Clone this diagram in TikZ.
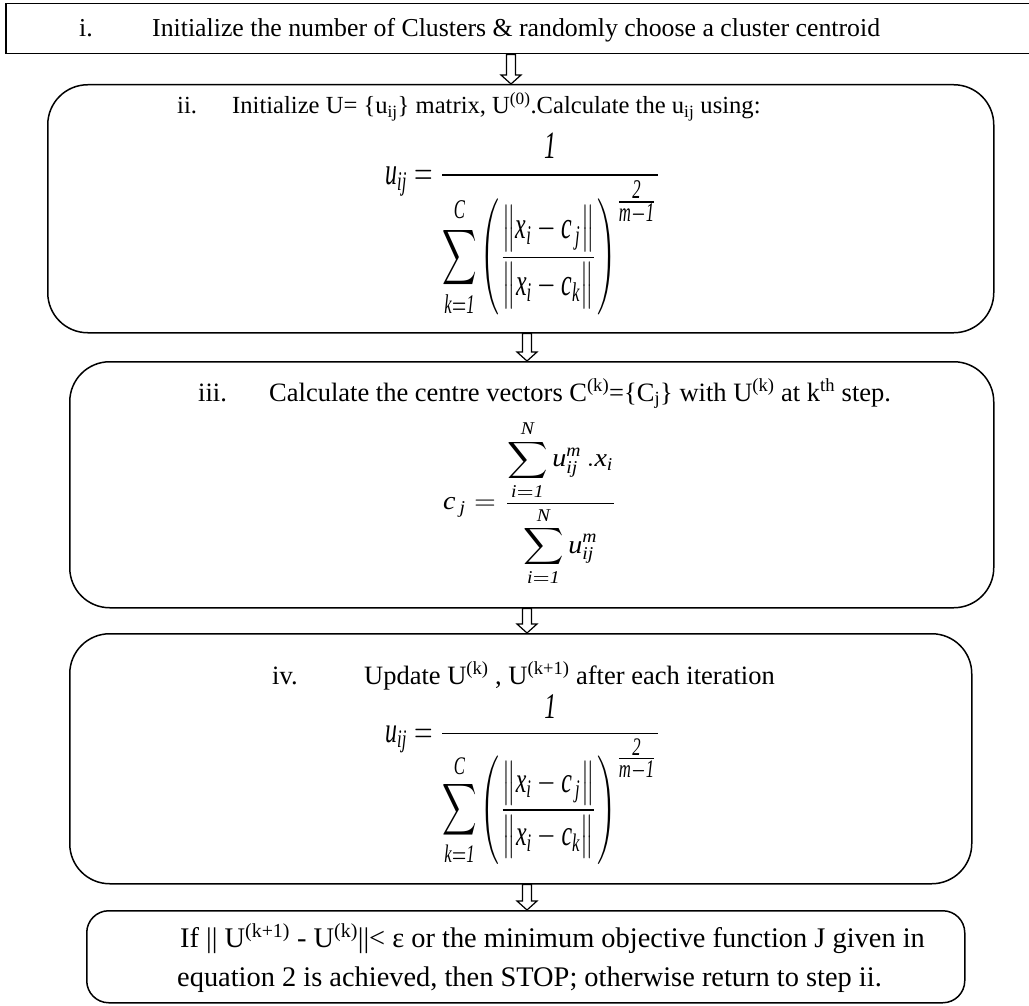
\documentclass[tikz,border=0pt]{standalone}
\usepackage{fontspec}
\setmainfont{Liberation Serif}
\usepackage{amsmath}
\usepackage{graphicx}
\usetikzlibrary{calc}

\newcommand{\mi}[1]{\text{\itshape #1}}
\newcommand{\mathU}{$\displaystyle \mi{u}_{\mi{ij}} = \frac{\mi{1}}{\displaystyle\sum_{\mi{k}=\mi{1}}^{\mi{C}} \left(\frac{\bigl\|\mi{x}_{\mi{i}} - \mi{c}_{\,\mi{j}}\bigr\|}{\bigl\|\mi{x}_{\mi{i}} - \mi{c}_{\mi{k}}\bigr\|}\right)^{\frac{\scriptstyle\mi{2}}{\scriptstyle\mi{m}-\mi{1}}}}$}
\newcommand{\mathC}{$\displaystyle \mi{c}_{\,\mi{j}} = \frac{\displaystyle\sum_{\mi{i}=\mi{1}}^{\mi{N}} \mi{u}_{\mi{ij}}^{\mi{m}}\,.\mi{x}_{\mi{i}}}{\displaystyle\sum_{\mi{i}=\mi{1}}^{\mi{N}} \mi{u}_{\mi{ij}}^{\mi{m}}}$}

\tikzset{
  boxline/.style={draw=black, line width=1.5pt, inner sep=0pt, anchor=north west},
  plainbox/.style={boxline},
  roundbox/.style={boxline, rounded corners=40pt},
  smallround/.style={boxline, rounded corners=22pt},
  txt/.style={inner sep=0pt, anchor=base west, font=\fontsize{26.5}{32}\selectfont},
  txtii/.style={inner sep=0pt, anchor=base west, font=\fontsize{24.6}{30}\selectfont},
  txti/.style={inner sep=0pt, anchor=base west, font=\fontsize{25.8}{31}\selectfont},
  txtv/.style={inner sep=0pt, anchor=base west, font=\fontsize{28.4}{34}\selectfont},
  formula/.style={inner sep=0pt, anchor=north west},
  harrow/.style={draw=black, fill=white, line width=1.2pt, line join=miter}
}

\begin{document}
\begin{tikzpicture}[x=1pt, y=-1pt]
\useasboundingbox (0,0) rectangle (1029,1006);
\fill[white] (0,0) rectangle (1029,1006);

% boxes
\node[plainbox, minimum width=1035pt, minimum height=50pt] (boxi) at (5,3) {};
\node[roundbox, minimum width=946pt, minimum height=248pt] (boxii) at (47,84) {};
\node[roundbox, minimum width=924pt, minimum height=246pt] (boxiii) at (69,361) {};
\node[roundbox, minimum width=902pt, minimum height=250pt] (boxiv) at (69,633) {};
\node[smallround, minimum width=878pt, minimum height=92pt] (boxv) at (86,910) {};

% texts
\node[txti] (ni) at (79,37) {i.};
\node[txti] (ti) at (152,37) {Initialize the number of Clusters \& randomly choose a cluster centroid};

\node[txtii] (nii) at (177,114) {ii.};
\node[txtii] (tii) at (232,114) {Initialize U= \{u\textsubscript{ij}\} matrix, U\textsuperscript{(0)}.Calculate the u\textsubscript{ij} using:};
\node[formula] (fii) at (385,133) {\resizebox*{276pt}{184pt}{\mathU}};

\node[txt] (niii) at (198,401) {iii.};
\node[txt] (tiii) at (269,401) {Calculate the centre vectors C\textsuperscript{(k)}=\{C\textsubscript{j}\} with U\textsuperscript{(k)} at k\textsuperscript{th} step.};
\node[formula] (fiii) at (443,420) {\resizebox*{174pt}{166pt}{\mathC}};

\node[txt] (niv) at (272,684) {iv.};
\node[txt] (tiv) at (364,684) {Update U\textsuperscript{(k)} , U\textsuperscript{(k+1)} after each iteration};
\node[formula] (fiv) at (385,694) {\resizebox*{276pt}{172pt}{\mathU}};

\node[txtv] (tv1) at (180,947) {If || U\textsuperscript{(k+1)} - U\textsuperscript{(k)}||< ε or the minimum objective function J given in};
\node[txtv] (tv2) at (177,986) {equation 2 is achieved, then STOP; otherwise return to step ii.};

% arrow axes
\coordinate (ax1) at (511,0);
\coordinate (ax2) at (527,0);

\foreach \s/\t/\a in {boxi/boxii/ax1, boxii/boxiii/ax2, boxiii/boxiv/ax2, boxiv/boxv/ax2}{
  \draw[harrow] let \p1=(\s.south -| \a), \p2=(\t.north -| \a) in
    (\x1-4.5pt,\y1) -- (\x1-4.5pt,\y2+9pt) -- (\x1-10pt,\y2+9pt) -- (\x2,\y2)
    -- (\x1+10pt,\y2+9pt) -- (\x1+4.5pt,\y2+9pt) -- (\x1+4.5pt,\y1) -- cycle;
}
\end{tikzpicture}
\end{document}
